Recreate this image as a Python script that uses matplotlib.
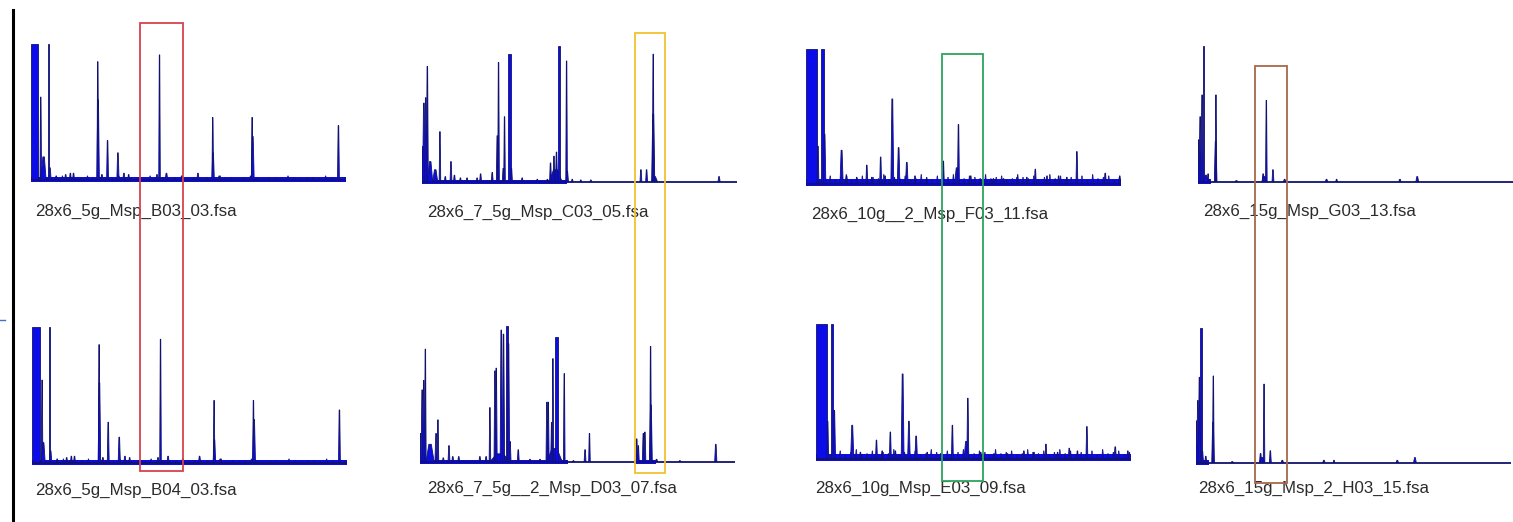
import numpy as np
import matplotlib
matplotlib.use("Agg")
import matplotlib.pyplot as plt
from matplotlib.patches import Rectangle

W, H = 1513, 522

# sample names under each trace
LABELS = ["28x6_5g_Msp_B03_03.fsa", "28x6_7_5g_Msp_C03_05.fsa",
          "28x6_10g__2_Msp_F03_11.fsa", "28x6_15g_Msp_G03_13.fsa",
          "28x6_5g_Msp_B04_03.fsa", "28x6_7_5g__2_Msp_D03_07.fsa",
          "28x6_10g_Msp_E03_09.fsa", "28x6_15g_Msp_2_H03_15.fsa"]

# peaks: position (0-100 of trace width), height (0-100, 100 = saturated), base width
POS_B03 = [1.15, 3.1, 4.0, 5.5, 6.0, 21.2, 21.3, 24.3, 27.6, 40.8, 57.7, 57.8, 70.2, 70.4, 97.6,
           8, 11, 12.5, 13.5, 22.5, 29.5, 31, 40, 43, 48, 53, 60]
HGT_B03 = [100, 61, 17, 100, 9, 87, 59, 29, 20, 92, 46, 20, 46, 32, 40,
           3, 4, 5, 5, 4, 5, 4, 4, 5, 3, 5, 3]
WID_B03 = [2.3, 0.5, 1.6, 0.45, 0.8, 0.5, 0.8, 0.6, 0.7, 0.5, 0.5, 0.8, 0.5, 0.9, 0.6,
           0.6, 0.6, 0.6, 0.6, 0.7, 0.7, 0.6, 0.7, 0.8, 0.6, 0.7, 0.6]

POS_C03 = [0.2, 0.6, 1.2, 1.7, 2.6, 4.2, 5.7, 7.4, 9.2, 10.3, 12.2, 14.3, 17.5, 18.6, 22.3,
           23.9, 24.3, 25.8, 26.2, 27.8, 28.4, 31.8, 36.6, 39.8,
           42.4, 40.8, 41.9, 42.7, 43.5, 45.9, 46.1, 47.7, 50.4, 53.6,
           69.5, 71.3, 73.8, 73.4, 73.4, 94.3]
HGT_C03 = [26, 58, 62, 85, 15, 9, 37, 4, 15, 5, 3, 3, 3, 6, 7,
           34, 88, 10, 48, 94, 10, 3, 2, 2,
           9, 14, 19, 22, 100, 89, 8, 2, 1.5, 1.5,
           9, 9, 4, 50, 94, 4]
WID_C03 = [0.6, 0.8, 0.8, 0.6, 1.6, 1.6, 0.5, 0.6, 0.6, 0.6, 0.6, 0.6, 0.6, 0.6, 0.6,
           0.6, 0.5, 0.6, 0.5, 0.8, 0.6, 0.6, 0.6, 0.6,
           4.2, 0.6, 0.6, 0.6, 0.9, 0.5, 0.8, 0.6, 0.6, 0.6,
           0.6, 0.6, 2.0, 1.0, 0.5, 0.7]

POS_F03 = [1.8, 3.8, 5.3, 5.9, 11.3, 12.9, 16.1, 19.3, 20.9, 23.7, 25.1, 27.4, 29.4, 32.0,
           34.6, 38.3, 43.6, 47.9, 48.4, 52.3, 55.3, 59.5, 62.7, 67, 70.1, 72.8, 76.5, 80.2,
           82.8, 86.0, 95.0, 99.6]
HGT_F03 = [100, 28, 100, 37, 25, 6, 5, 14, 5, 20, 6, 63, 27, 16,
           6, 4, 17, 12, 44, 6, 4, 4, 4, 5, 5, 11, 6, 6,
           5, 24, 8, 6]
WID_F03 = [3.6, 0.6, 1.0, 0.8, 1.0, 0.6, 0.6, 0.6, 0.6, 0.6, 0.6, 0.9, 0.8, 0.8,
           0.6, 0.6, 0.6, 1.4, 0.6, 0.6, 0.6, 0.6, 0.6, 0.6, 0.6, 0.6, 0.6, 0.6,
           0.6, 0.6, 0.7, 0.6]

POS_G03 = [0.2, 0.7, 1.3, 1.7, 2.5, 3.2, 5.6, 5.7, 12.2, 20.7, 21.0, 21.7, 23.8, 27.5,
           40.8, 44.0, 64.1, 69.6]
HGT_G03 = [31, 48, 64, 100, 5, 6, 30, 64, 1, 6, 4, 60, 9, 2,
           2, 2, 2, 4]
WID_G03 = [0.6, 0.7, 0.7, 0.5, 1.5, 0.5, 0.8, 0.5, 1.0, 0.7, 1.5, 0.5, 0.6, 0.8,
           0.8, 0.6, 0.8, 0.9]

POS_B04 = [1.2, 3.2, 3.6, 5.6, 5.9, 21.3, 21.4, 24.2, 27.7, 40.8, 43.2, 53.2, 57.8, 57.9,
           70.3, 70.5, 97.6, 8, 11, 12.5, 13.5, 22.5, 29.5, 31, 40, 48, 60]
HGT_B04 = [100, 61, 15, 100, 9, 87, 59, 30, 19, 91, 5, 5, 46, 17,
           46, 32, 39, 3, 4, 5, 5, 4, 5, 4, 4, 3, 3]
WID_B04 = [2.4, 0.5, 1.2, 0.45, 0.8, 0.5, 0.8, 0.6, 0.7, 0.5, 0.7, 0.7, 0.5, 0.8,
           0.5, 0.9, 0.6, 0.6, 0.6, 0.6, 0.6, 0.7, 0.7, 0.6, 0.7, 0.6, 0.6]

POS_D03 = [0.1, 0.7, 1.2, 1.7, 3.2, 5.1, 5.7, 7.4, 9.2, 10.4, 12.3, 19.0, 21.0,
           25.4, 22.2, 23.8, 24.2, 25.8, 26.5, 27.6, 28.1, 28.6, 31.2, 34.9, 38.1,
           42.7, 40.3, 40.7, 41.8, 42.2, 43.3, 45.8, 48.7, 52.4, 53.8,
           68.8, 69.3, 70.9, 71.4, 73.3, 73.2, 75.1, 82.5, 93.9]
HGT_D03 = [21, 53, 60, 83, 13, 21, 31, 3, 12, 4, 4, 4, 4,
           6, 40, 67, 69, 97, 94, 100, 87, 15, 9, 2, 2,
           10, 44, 44, 29, 76, 92, 65, 1, 9, 21,
           17, 12, 21, 22, 42, 85, 2, 1, 13]
WID_D03 = [0.6, 0.7, 0.7, 0.5, 2.6, 0.7, 0.5, 0.6, 0.6, 0.6, 0.6, 0.6, 0.6,
           6.6, 0.5, 0.6, 0.6, 0.7, 0.7, 0.7, 0.7, 0.6, 0.6, 0.7, 0.7,
           5.0, 0.6, 0.6, 0.6, 0.5, 0.9, 0.5, 0.7, 0.6, 0.5,
           0.6, 0.6, 0.6, 0.6, 0.9, 0.5, 0.7, 0.8, 0.7]

POS_E03 = [1.75, 3.7, 5.1, 5.8, 11.5, 14.1, 19.2, 21.0, 23.6, 25.2, 27.5, 29.5, 31.8,
           35.3, 39.6, 43.3, 47.7, 48.2, 52.3, 56.5, 60.8, 66.0, 69.2, 73.0, 76.7, 80.4,
           83.0, 86.0, 95.0, 99.0]
HGT_E03 = [100, 28, 100, 36, 25, 5, 14, 6, 20, 6, 63, 28, 17,
           5, 4, 25, 13, 45, 5, 4, 4, 6, 5, 11, 5, 8,
           6, 24, 9, 6]
WID_E03 = [3.5, 0.6, 0.9, 0.8, 1.0, 0.6, 0.6, 0.6, 0.6, 0.6, 0.9, 0.8, 0.8,
           0.6, 0.6, 0.6, 1.4, 0.6, 0.6, 0.6, 0.6, 0.6, 0.6, 0.6, 0.6, 0.6,
           0.6, 0.6, 0.7, 0.6]

POS_H03 = [0.1, 0.6, 1.1, 1.5, 2.0, 3.1, 5.4, 5.5, 11.5, 20.5, 21.0, 21.6, 23.6, 27.4,
           40.6, 43.8, 63.9, 69.5]
HGT_H03 = [31, 46, 63, 99, 9, 5, 30, 64, 1, 7, 4, 58, 9, 2,
           2, 2, 2, 4]
WID_H03 = [0.6, 0.7, 0.7, 0.5, 0.8, 0.6, 0.8, 0.5, 1.0, 0.7, 1.6, 0.5, 0.6, 0.8,
           0.8, 0.6, 0.8, 0.9]

# baseline ripple
NOISE_B = [2, 1, 3, 2, 1, 2, 3, 1, 2, 2, 1, 3, 2, 1, 2, 1, 3, 2, 2, 1, 2, 3, 1, 2,
           1, 2, 2, 3, 1, 2, 1, 2, 3, 2, 1, 2, 2, 1, 3, 2, 1, 2, 2, 1, 3, 2, 1, 2]
NOISE_EF = [4, 6, 3, 5, 7, 3, 4, 6, 2, 5, 4, 7, 3, 5, 4, 6, 3, 4, 7, 5, 3, 6, 4, 5, 7, 3,
            4, 6, 5, 3, 7, 4, 5, 6, 3, 4, 7, 5, 4, 6, 3, 5, 7, 4, 6, 3, 5, 4, 6, 3, 7, 4,
            5, 6, 3, 5]

TRACES = [(POS_B03, HGT_B03, WID_B03), (POS_C03, HGT_C03, WID_C03),
          (POS_F03, HGT_F03, WID_F03), (POS_G03, HGT_G03, WID_G03),
          (POS_B04, HGT_B04, WID_B04), (POS_D03, HGT_D03, WID_D03),
          (POS_E03, HGT_E03, WID_E03), (POS_H03, HGT_H03, WID_H03)]
NOISE = [NOISE_B, None, NOISE_EF, None, NOISE_B, None, NOISE_EF, None]
# thick blue baseline stretches (start, end, height)
BANDS = [[(0, 100, 2.5)], [(0, 46, 1.5)], [(0, 100, 4)], [(0, 4, 2)],
         [(0, 100, 2.5)], [(0, 47, 1.5), (68, 75, 1.5)], [(0, 100, 4)], [(0, 4, 2)]]

# trace boxes in pixels: left, baseline y, top y
PANELS = [(31, 180, 44), (422, 182, 46), (806, 184, 49), (1198, 182, 46),
          (32, 463, 327), (420, 462, 326), (816, 459, 324), (1196, 463, 327)]
PANEL_W = 315
LABEL_XY = [(35, 211), (427, 212), (811, 214), (1203, 211),
            (35, 490), (427, 488), (815, 488), (1198, 488)]

# highlight boxes: x0, x1, y0, y1 (pixels), colour
BOXES = [(140, 183, 23, 471, "#d9414f"), (635, 665, 33, 473, "#f2c12e"),
         (942, 983, 54, 481, "#2ea35f"), (1255, 1287, 66, 483, "#a8674a")]

FILL = "#0c0ce8"
EDGE = "#12126e"


def draw_peaks(ax, pos, hgt, wid, lw=0.6):
    # saturated / blocky peaks are flat-topped, the rest are narrow spikes
    for x, h, w in zip(pos, hgt, wid):
        if h >= 99 or (h >= 90 and w >= 0.8):
            top = w
        else:
            top = max(0.15, w * 0.3)
        ax.fill([x - w / 2, x - top / 2, x + top / 2, x + w / 2], [0, h, h, 0],
                facecolor=FILL, edgecolor=EDGE, linewidth=lw)


fig = plt.figure(figsize=(W / 100, H / 100), dpi=100)
fig.patch.set_facecolor("white")

for i, (pos, hgt, wid) in enumerate(TRACES):
    left, base, top = PANELS[i]
    ax = fig.add_axes([left / W, 1 - base / H, PANEL_W / W, (base - top) / H])
    ax.set_xlim(0, 100)
    ax.set_ylim(0, 100)
    ax.axis("off")
    for x0, x1, bh in BANDS[i]:
        ax.bar(x0, bh + 1.5, width=x1 - x0, bottom=-1.5, align="edge",
               color=FILL, linewidth=0, clip_on=False)
    if NOISE[i] is not None:
        nx = np.linspace(6, 99.5, len(NOISE[i]))
        draw_peaks(ax, nx, NOISE[i], [0.6] * len(nx), lw=0.4)
    ax.plot([0, 100], [0, 0], color=EDGE, lw=1.3, solid_capstyle="butt", clip_on=False)
    draw_peaks(ax, pos, hgt, wid)

for (x, y), lab in zip(LABEL_XY, LABELS):
    fig.text(x / W, 1 - y / H, lab, fontsize=12.2, family="Liberation Sans",
             color="#2b2b2b", va="center", ha="left")

over = fig.add_axes([0, 0, 1, 1], zorder=10)
over.set_xlim(0, W)
over.set_ylim(H, 0)
over.axis("off")
over.patch.set_alpha(0)
for x0, x1, y0, y1, c in BOXES:
    over.add_patch(Rectangle((x0, y0), x1 - x0, y1 - y0, fill=False, edgecolor=c, lw=1.3))
over.plot([13, 13], [10, H], color="black", lw=2.2)
over.plot([0, 5], [320, 320], color="#4070d0", lw=1)

fig.savefig("out.png", dpi=100)
